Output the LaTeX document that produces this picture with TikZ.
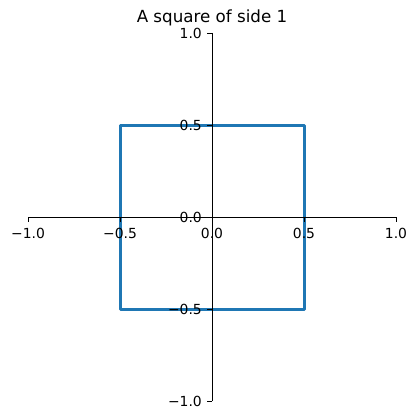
\documentclass[tikz,border=0pt]{standalone}
\usepackage{fontspec}
\setmainfont{DejaVu Sans}
\definecolor{tabblue}{HTML}{1F77B4}
\begin{document}
\begin{tikzpicture}[x=1pt,y=-1pt,
  spine/.style={line width=0.8pt, black},
  tickmark/.style={line width=0.8pt, black},
  lbl/.style={font=\fontsize{13.9}{16}\selectfont, inner sep=0pt},
  ttl/.style={font=\fontsize{16.7}{19}\selectfont, inner sep=0pt},
  squareline/.style={draw=tabblue, line width=3pt, line join=round}]
\useasboundingbox (0,0) rectangle (417,420);
% square
\coordinate (s1) at (120,125);
\coordinate (s2) at (304,125);
\coordinate (s3) at (304,309);
\coordinate (s4) at (120,309);
\path[squareline] (s1) -- (s2) -- (s3) -- (s4) -- cycle;
% spines
\coordinate (xl) at (28,217);
\coordinate (xr) at (396,217);
\coordinate (yt) at (212,33);
\coordinate (yb) at (212,401);
\draw[spine] (xl) -- (xr);
\draw[spine] (yt) -- (yb);
% x ticks
\foreach \px [count=\i] in {28,120,212,304,396}{
  \coordinate (xt\i) at (\px,217);
  \coordinate (xe\i) at (\px,222);
  \draw[tickmark] (xt\i) -- (xe\i);
}
\node[lbl, anchor=north] (xl1) at (28,228) {−1.0};
\node[lbl, anchor=north] (xl2) at (120,228) {−0.5};
\node[lbl, anchor=north] (xl3) at (212,228) {0.0};
\node[lbl, anchor=north] (xl4) at (304,228) {0.5};
\node[lbl, anchor=north] (xl5) at (396,228) {1.0};
% y ticks
\foreach \py [count=\i] in {33,125,217,309,401}{
  \coordinate (yt\i) at (212,\py);
  \coordinate (ye\i) at (207,\py);
  \draw[tickmark] (yt\i) -- (ye\i);
}
\node[lbl, anchor=east] (yl1) at (202,33) {1.0};
\node[lbl, anchor=east] (yl2) at (202,125) {0.5};
\node[lbl, anchor=east] (yl3) at (202,217) {0.0};
\node[lbl, anchor=east] (yl4) at (202,309) {−0.5};
\node[lbl, anchor=east] (yl5) at (202,401) {−1.0};
% title
\node[ttl, anchor=base] (title) at (212,23) {A square of side 1};
\end{tikzpicture}
\end{document}
